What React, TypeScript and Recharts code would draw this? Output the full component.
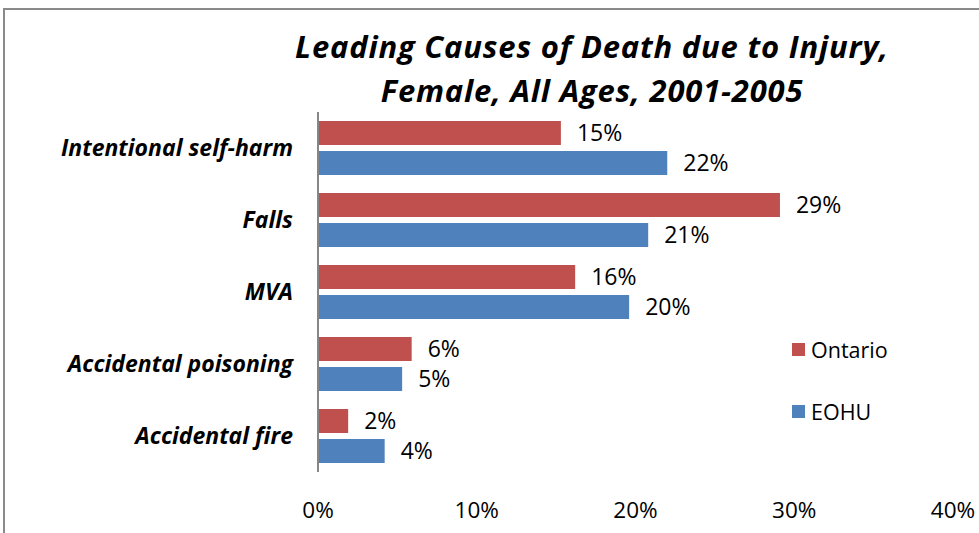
import { Bar, BarChart, LabelList, Legend, XAxis, YAxis } from "recharts"

const categories = ["Intentional self-harm", "Falls", "MVA", "Accidental poisoning", "Accidental fire"]
const ontario = [15.3, 29.1, 16.2, 5.9, 1.9]
const eohu = [22.0, 20.8, 19.6, 5.3, 4.2]
const xTicks = [0, 10, 20, 30, 40]

const data = categories.map((name, i) => ({ name, Ontario: ontario[i], EOHU: eohu[i] }))

const RED = "#C0504D"
const BLUE = "#4F81BD"
const FONT = "'Open Sans', Lato, sans-serif"

const pct = (v: any) => `${Math.round(Number(v))}%`

function CategoryTick(props: any) {
  const { x, y, payload } = props
  return (
    <text x={x - 17} y={y} dy="0.35em" textAnchor="end" fontFamily={FONT} fontSize={23} fontWeight={700} fontStyle="italic" fill="#000">
      {payload.value}
    </text>
  )
}

function LegendBox() {
  const items = [
    { label: "Ontario", color: RED },
    { label: "EOHU", color: BLUE },
  ]
  return (
    <div style={{ fontFamily: FONT, fontSize: 21.5 }}>
      {items.map((it) => (
        <div key={it.label} style={{ display: "flex", alignItems: "center", height: 26, marginBottom: 36 }}>
          <span style={{ width: 13, height: 13, background: it.color, marginRight: 6 }} />
          <span>{it.label}</span>
        </div>
      ))}
    </div>
  )
}

export default function App() {
  return (
    <div style={{ position: "absolute", left: 0, top: 0, width: 979, height: 533, background: "#fff", overflow: "hidden" }}>
      <div style={{ position: "absolute", left: 3, top: 8, width: 990, height: 540, borderTop: "2px solid #8a8a8a", borderLeft: "2px solid #8a8a8a" }} />
      <div
        style={{
          position: "absolute",
          left: 180,
          width: 824,
          top: 24,
          textAlign: "center",
          fontFamily: FONT,
          fontSize: 31,
          fontWeight: 700,
          fontStyle: "italic",
          letterSpacing: 0.8,
          lineHeight: "44px",
        }}
      >
        Leading Causes of Death due to Injury,
        <br />
        Female, All Ages, 2001-2005
      </div>
      <BarChart
        width={979}
        height={533}
        data={data}
        layout="vertical"
        margin={{ top: 112, right: 26, bottom: 21, left: 0 }}
        barGap={6}
        style={{ position: "absolute", left: 0, top: 0 }}
      >
        <XAxis
          type="number"
          domain={[0, 40]}
          ticks={xTicks}
          tickFormatter={(v) => `${v}%`}
          axisLine={false}
          tickLine={false}
          height={40}
          tick={{ fontFamily: FONT, fontSize: 22.5, fill: "#000" }}
          dy={22}
        />
        <YAxis
          type="category"
          dataKey="name"
          width={318}
          axisLine={{ stroke: "#868686", strokeWidth: 2 }}
          tickLine={false}
          tick={<CategoryTick />}
        />
        <Legend
          layout="vertical"
          align="center"
          verticalAlign="middle"
          content={<LegendBox />}
          wrapperStyle={{ left: 792, top: 336, width: 120 }}
        />
        <Bar dataKey="Ontario" fill={RED} barSize={24} isAnimationActive={false}>
          <LabelList dataKey="Ontario" position="right" offset={16} formatter={pct} style={{ fontFamily: FONT, fontSize: 23, fill: "#000" }} />
        </Bar>
        <Bar dataKey="EOHU" fill={BLUE} barSize={24} isAnimationActive={false}>
          <LabelList dataKey="EOHU" position="right" offset={16} formatter={pct} style={{ fontFamily: FONT, fontSize: 23, fill: "#000" }} />
        </Bar>
      </BarChart>
    </div>
  )
}
